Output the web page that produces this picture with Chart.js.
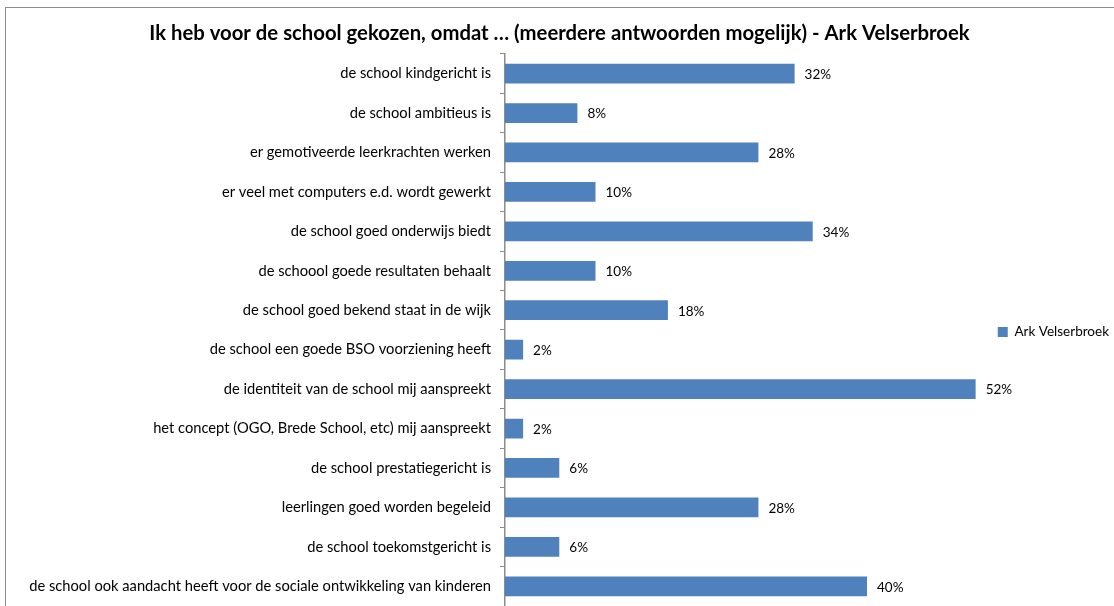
<!DOCTYPE html>
<html>
<head>
<meta charset="utf-8">
<script src="https://cdn.jsdelivr.net/npm/chart.js@4"></script>
<style>
  html, body { margin: 0; padding: 0; background: #fff; overflow: hidden; }
  canvas { display: block; }
</style>
</head>
<body>
<canvas id="chart" width="1114" height="606"></canvas>
<script>
const categories = [
  "de school kindgericht is",
  "de school ambitieus is",
  "er gemotiveerde leerkrachten werken",
  "er veel met computers e.d. wordt gewerkt",
  "de school goed onderwijs biedt",
  "de schoool goede resultaten behaalt",
  "de school goed bekend staat in de wijk",
  "de school een goede BSO voorziening heeft",
  "de identiteit van de school mij aanspreekt",
  "het concept (OGO, Brede School, etc) mij aanspreekt",
  "de school prestatiegericht is",
  "leerlingen goed worden begeleid",
  "de school toekomstgericht is",
  "de school ook aandacht heeft voor de sociale ontwikkeling van kinderen"
];
const seriesName = "Ark Velserbroek";
const values = [32, 8, 28, 10, 34, 10, 18, 2, 52, 2, 6, 28, 6, 40];
const chartTitle = "Ik heb voor de school gekozen, omdat … (meerdere antwoorden mogelijk) - Ark Velserbroek";

const fontFamily = "Lato, 'Open Sans', sans-serif";

// outer frame like the spreadsheet chart
const framePlugin = {
  id: "frame",
  beforeDraw(chart) {
    const c = chart.ctx;
    c.save();
    c.strokeStyle = "#8c8c8c";
    c.lineWidth = 1;
    c.strokeRect(5.5, 7.5, chart.width + 10, chart.height + 10);
    c.restore();
  }
};

// value labels at the end of each bar
const valueLabels = {
  id: "valueLabels",
  afterDatasetsDraw(chart) {
    const c = chart.ctx;
    const meta = chart.getDatasetMeta(0);
    c.save();
    c.font = "13.5px " + fontFamily;
    c.fillStyle = "#000";
    c.textBaseline = "middle";
    meta.data.forEach((bar, i) => {
      c.fillText(values[i] + "%", bar.x + 10, bar.y + 1);
    });
    c.restore();
  }
};

new Chart(document.getElementById("chart"), {
  type: "bar",
  data: {
    labels: categories,
    datasets: [{
      label: seriesName,
      data: values,
      backgroundColor: "#4F81BD",
      borderWidth: 0,
      barPercentage: 0.5,
      categoryPercentage: 1.0
    }]
  },
  options: {
    indexAxis: "y",
    responsive: false,
    animation: false,
    layout: { autoPadding: false, padding: { top: 0, bottom: 0, left: 0, right: -5 } },
    plugins: {
      title: {
        display: true,
        text: chartTitle,
        color: "#000",
        font: { family: fontFamily, size: 20.3, weight: "bold" },
        padding: { top: 21, bottom: 8.5 }
      },
      legend: {
        display: true,
        position: "right",
        // empty legend title only pushes the entry down to the plot middle
        title: {
          display: true,
          text: " ",
          font: { family: fontFamily, size: 10 },
          padding: { top: 46, bottom: 0 }
        },
        labels: {
          color: "#000",
          font: { family: fontFamily, size: 13.5 },
          boxWidth: 10,
          boxHeight: 10,
          padding: 4
        }
      },
      tooltip: { enabled: false }
    },
    scales: {
      x: {
        display: false,
        min: 0,
        max: 54
      },
      y: {
        afterFit(scale) {
          scale.width = 505;
          scale.paddingTop = 0;
          scale.paddingBottom = 0;
        },
        border: { display: true, color: "#8c8c8c", width: 1.5 },
        grid: {
          display: true,
          drawOnChartArea: false,
          drawTicks: true,
          tickLength: 5,
          color: "#8c8c8c",
          offset: true
        },
        ticks: {
          color: "#000",
          padding: 9,
          autoSkip: false,
          font: { family: fontFamily, size: 14.7 }
        }
      }
    }
  },
  plugins: [framePlugin, valueLabels]
});
</script>
</body>
</html>
